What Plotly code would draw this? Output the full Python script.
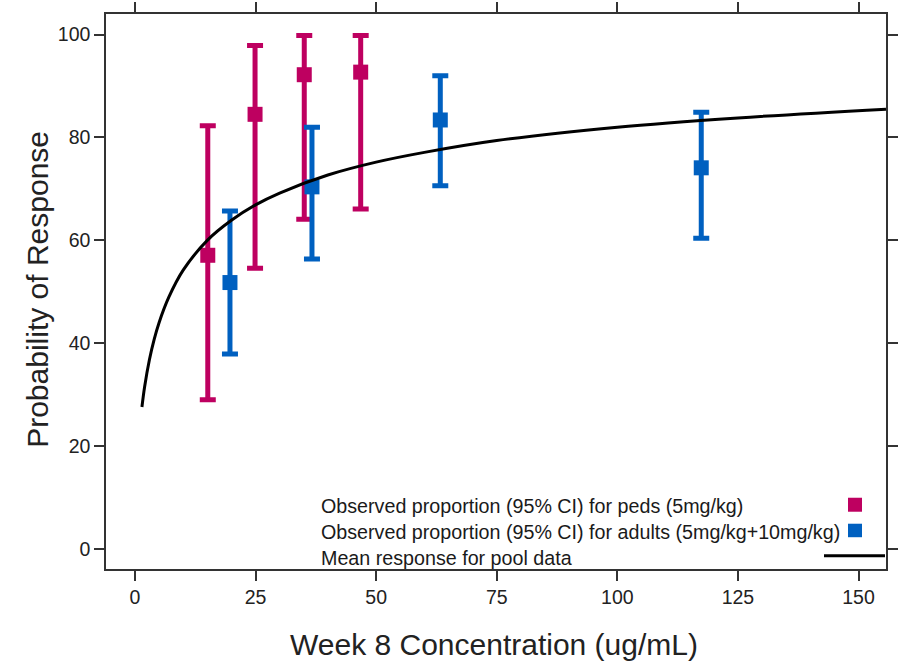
import plotly.graph_objects as go

# ---- data ----
peds_x = [15.1, 24.9, 35.1, 46.8]
peds_y = [57.1, 84.5, 92.2, 92.7]
peds_hi = [82.3, 97.9, 99.8, 99.8]
peds_lo = [29.0, 54.6, 64.1, 66.1]

adult_x = [19.7, 36.7, 63.3, 117.4]
adult_y = [51.8, 70.4, 83.4, 74.1]
adult_hi = [65.7, 82.0, 92.0, 84.9]
adult_lo = [37.9, 56.4, 70.6, 60.4]

curve_x = [1.45, 2, 3, 4, 5, 7, 10, 15, 20, 25, 30, 40, 50, 60, 75, 100, 125, 155.7]
curve_y = [27.6, 31.5, 36.8, 40.8, 44.0, 48.9, 54.2, 60.0, 63.9, 66.9, 69.2, 72.7,
           75.2, 77.1, 79.4, 82.0, 83.8, 85.5]

x_ticks = [0, 25, 50, 75, 100, 125, 150]
y_ticks = [0, 20, 40, 60, 80, 100]

legend_labels = [
    "Observed proportion (95% CI) for peds (5mg/kg)",
    "Observed proportion (95% CI) for adults (5mg/kg+10mg/kg)",
    "Mean response for pool data",
]
x_title = "Week 8 Concentration (ug/mL)"
y_title = "Probability of Response"

PEDS_COLOR = "#BE0060"
ADULT_COLOR = "#0060C0"
FONT = "Liberation Sans, Arial, sans-serif"

L, R, T, B = 106, 886, 14, 569.3
W, H = 899, 663

def px2paper_x(px):
    return (px - L) / (R - L)

def px2paper_y(py):
    return (B - py) / (B - T)

fig = go.Figure()

fig.add_trace(go.Scatter(
    x=peds_x, y=peds_y, mode="markers",
    marker=dict(symbol="square", size=15, color=PEDS_COLOR),
    error_y=dict(type="data", symmetric=False,
                 array=[h - v for h, v in zip(peds_hi, peds_y)],
                 arrayminus=[v - l for l, v in zip(peds_lo, peds_y)],
                 color=PEDS_COLOR, thickness=5, width=8),
    showlegend=False,
))
fig.add_trace(go.Scatter(
    x=adult_x, y=adult_y, mode="markers",
    marker=dict(symbol="square", size=15, color=ADULT_COLOR),
    error_y=dict(type="data", symmetric=False,
                 array=[h - v for h, v in zip(adult_hi, adult_y)],
                 arrayminus=[v - l for l, v in zip(adult_lo, adult_y)],
                 color=ADULT_COLOR, thickness=5, width=8),
    showlegend=False,
))
fig.add_trace(go.Scatter(
    x=curve_x, y=curve_y, mode="lines",
    line=dict(color="black", width=3, shape="spline", smoothing=1.0),
    showlegend=False,
))

# ---- custom legend (text left, symbols right) ----
ann_py = [506.5, 532.5, 558.5]
for lbl, py in zip(legend_labels, ann_py):
    fig.add_annotation(xref="paper", yref="paper", x=px2paper_x(319), y=px2paper_y(py),
                       xanchor="left", yanchor="middle", text=lbl, showarrow=False,
                       font=dict(family=FONT, size=19.7, color="#1a1a1a"))

fig.add_shape(type="rect", xref="paper", yref="paper",
              x0=px2paper_x(848), x1=px2paper_x(862),
              y0=px2paper_y(512), y1=px2paper_y(498),
              fillcolor=PEDS_COLOR, line=dict(width=0))
fig.add_shape(type="rect", xref="paper", yref="paper",
              x0=px2paper_x(848), x1=px2paper_x(862),
              y0=px2paper_y(537.5), y1=px2paper_y(524),
              fillcolor=ADULT_COLOR, line=dict(width=0))
fig.add_shape(type="line", xref="paper", yref="paper",
              x0=px2paper_x(824), x1=px2paper_x(885),
              y0=px2paper_y(556), y1=px2paper_y(556),
              line=dict(color="black", width=3))

# ---- axis titles ----
fig.add_annotation(xref="paper", yref="paper", x=px2paper_x(494), y=px2paper_y(645),
                   xanchor="center", yanchor="middle", text=x_title, showarrow=False,
                   font=dict(family=FONT, size=30, color="#222222"))
fig.add_annotation(xref="paper", yref="paper", x=px2paper_x(38), y=px2paper_y(290),
                   xanchor="center", yanchor="middle", text=y_title, showarrow=False,
                   textangle=-90,
                   font=dict(family=FONT, size=30, color="#222222"))

axis_common = dict(
    showline=True, linecolor="#333333", linewidth=1.5, mirror="ticks",
    ticks="outside", ticklen=10, tickwidth=1.5, tickcolor="#333333",
    showgrid=False, zeroline=False, automargin=False,
    tickfont=dict(family=FONT, size=19.5, color="#222222"),
)

fig.update_layout(
    width=W, height=H,
    margin=dict(l=L, r=W - R, t=T, b=H - B, autoexpand=False),
    paper_bgcolor="white", plot_bgcolor="white",
    font=dict(family=FONT),
    xaxis=dict(range=[-6.0, 155.7], tickvals=x_ticks, **axis_common),
    yaxis=dict(range=[-3.88, 104.0], tickvals=y_ticks, **axis_common),
)

fig.write_html("out.html",
               config={"displayModeBar": False},
               post_script="document.body.style.margin='0';document.body.style.overflow='hidden';")
